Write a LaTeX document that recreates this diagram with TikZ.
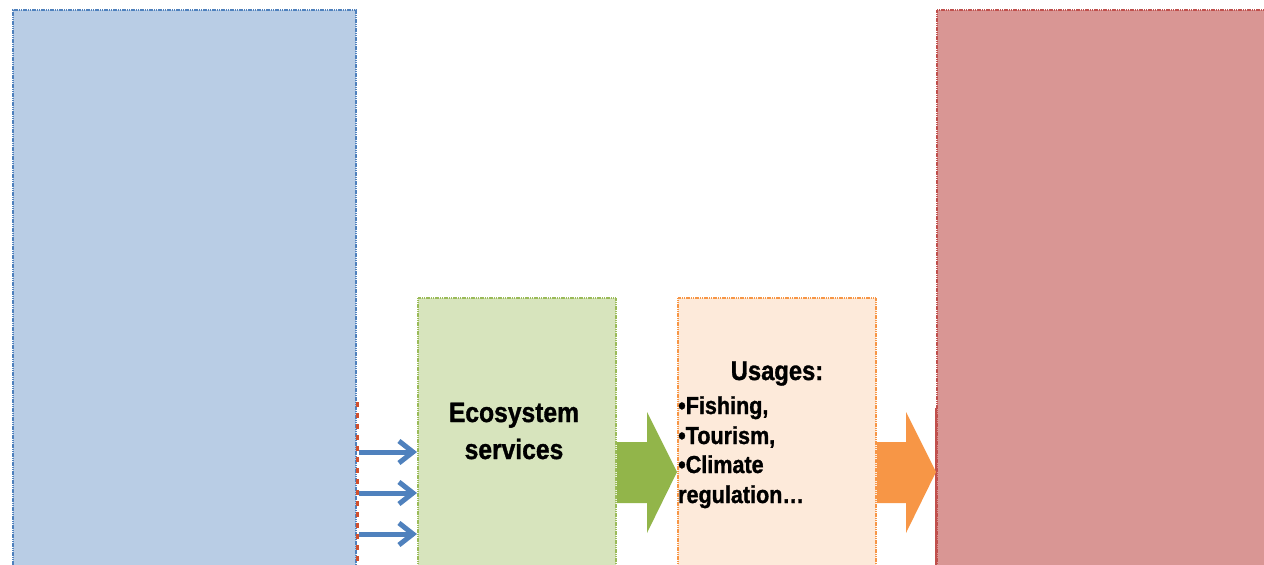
\documentclass[tikz,border=0pt]{standalone}
\usepackage{fontspec}
\setmainfont{Liberation Sans}
\newfontfamily\heavy{Liberation Sans}[FakeStretch=0.88,FakeBold=1.2]
\usetikzlibrary{arrows.meta}
\definecolor{bluefill}{HTML}{B9CDE5}
\definecolor{blueline}{HTML}{4F81BD}
\definecolor{greenfill}{HTML}{D7E4BD}
\definecolor{greenline}{HTML}{9BBB59}
\definecolor{orangefill}{HTML}{FDEADA}
\definecolor{orangeline}{HTML}{F79646}
\definecolor{redfill}{HTML}{D99694}
\definecolor{redline}{HTML}{C0504D}
\definecolor{dashred}{HTML}{D0502E}
\definecolor{greenarrow}{HTML}{92B54A}
\tikzset{
  panel/.style={anchor=north west, inner sep=0pt, line width=1.8pt, dash pattern=on 1.2pt off 0.6pt},
  bigtext/.style={font=\heavy\bfseries\fontsize{28}{30}\selectfont, anchor=base, inner sep=0pt},
  titletext/.style={font=\heavy\bfseries\fontsize{27}{30}\selectfont, anchor=base, inner sep=0pt},
  listtext/.style={font=\heavy\bfseries\fontsize{24.5}{30}\selectfont, anchor=base west, inner sep=0pt},
  bluearrow/.style={draw=blueline, line width=5pt, -{Straight Barb[length=14pt,width=22pt]}},
}
\begin{document}
\begin{tikzpicture}[x=1pt,y=-1pt]
\useasboundingbox (0,0) rectangle (1264,565);
% boxes
\node[panel, draw=blueline, fill=bluefill, minimum width=343pt, minimum height=556pt] (blue) at (12,9) {};
\node[panel, draw=greenline, fill=greenfill, minimum width=198pt, minimum height=268pt] (eco) at (417,297) {};
\node[panel, draw=orangeline, fill=orangefill, minimum width=198pt, minimum height=268pt] (usage) at (677,297) {};
\node[panel, draw=redline, solid, line width=1.5pt, fill=redfill, minimum width=340pt, minimum height=160pt] (redback) at (935,408) {};
\node[panel, draw=redline, fill=redfill, minimum width=340pt, minimum height=556pt] (red) at (936,9) {};
% dashed red line beside the blue box
\coordinate (dtop) at (357.5,402);
\coordinate (dbot) at (357.5,565);
\draw[dashred, line width=3pt, dash pattern=on 5pt off 6pt] (dtop) -- (dbot);
% blue arrows
\foreach \yy in {452,493,534}{
  \draw[bluearrow] (blue.east |- 0,\yy) ++(2,0) -- (eco.west |- 0,\yy);
}
% block arrows
\fill[greenarrow] (eco.east |- 0,442) -- (647,442) -- (647,412) -- (usage.west |- 0,472) -- (647,533) -- (647,503) -- (eco.east |- 0,503) -- cycle;
\fill[orangeline] (usage.east |- 0,442) -- (906,442) -- (906,412) -- (red.west |- 0,472) -- (906,533) -- (906,503) -- (usage.east |- 0,503) -- cycle;
% texts
\node[bigtext] (eco1) at (514,422) {Ecosystem};
\node[bigtext] (eco2) at (514,459) {services};
\node[titletext] (u0) at (777,380) {Usages:};
\node[listtext] (u1) at (678,414) {•Fishing,};
\node[listtext] (u2) at (678,444) {•Tourism,};
\node[listtext] (u3) at (678,473) {•Climate};
\node[listtext] (u4) at (678,503) {regulation…};
\end{tikzpicture}
\end{document}
